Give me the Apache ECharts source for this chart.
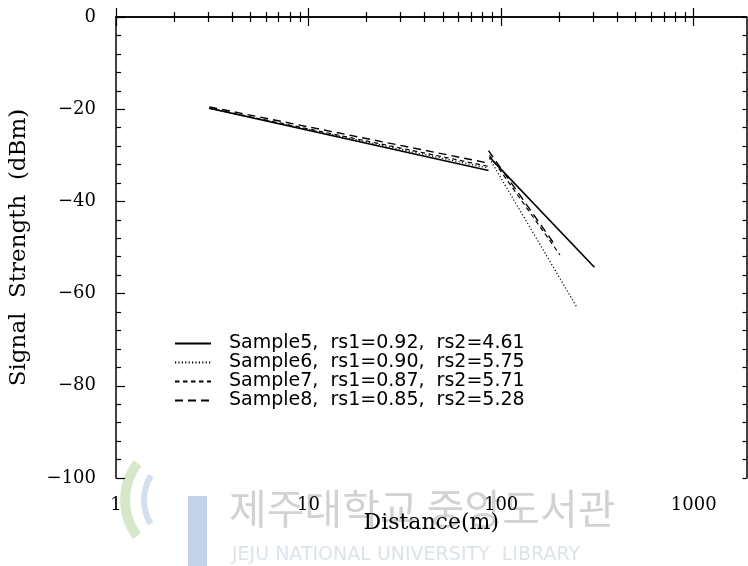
<!DOCTYPE html>
<html>
<head>
<meta charset="utf-8">
<script src="https://cdn.jsdelivr.net/npm/echarts@6/dist/echarts.min.js"></script>
<style>
html,body{margin:0;padding:0;background:#fff}
#chart{width:748px;height:566px}
</style>
</head>
<body>
<div id="chart"></div>
<script>
// legend names
let sampleNames = [
    'Sample5,  rs1=0.92,  rs2=4.61',
    'Sample6,  rs1=0.90,  rs2=5.75',
    'Sample7,  rs1=0.87,  rs2=5.71',
    'Sample8,  rs1=0.85,  rs2=5.28'
]
// [distance(m), dBm] - near segment and far segment of each fit
let sample5Near = [[3.05,-19.8],[86,-33.3]]
let sample5Far  = [[87,-30.4],[305,-54.3]]
let sample6Near = [[3.05,-19.8],[86,-32.8]]
let sample6Far  = [[87,-30.7],[246,-62.8]]
let sample7Near = [[3.05,-19.8],[86,-32.4]]
let sample7Far  = [[87,-30.0],[202,-51.6]]
let sample8Near = [[3.05,-19.5],[86,-31.7]]
let sample8Far  = [[86,-29.0],[190,-49.4]]
// tick values
let xMajorTicks = [1,10,100,1000]
let xMinorTicks = [2,3,4,5,6,7,8,9,20,30,40,50,60,70,80,90,200,300,400,500,600,700,800,900]
let xMax = 1880

let serif = 'DejaVu Serif'
let lineDefs = [
    {near:sample5Near, far:sample5Far, width:1.6, type:'solid'},
    {near:sample6Near, far:sample6Far, width:1.2, type:[1.2,2.2]},
    {near:sample7Near, far:sample7Far, width:1.2, type:[4.5,3.5]},
    {near:sample8Near, far:sample8Far, width:1.4, type:[8,5]}
]

function logAxis(pos, ticks, len, showLine, showLabel){
    return {
        type:'log',
        logBase:10,
        min:1,
        max:xMax,
        position:pos,
        name: showLabel ? 'Distance(m)' : '',
        nameLocation:'middle',
        nameGap:34,
        nameMoveOverlap:false,
        nameTextStyle:{fontFamily:serif, fontSize:22, color:'#000'},
        axisLine:{show:showLine, lineStyle:{color:'#000', width:1.5}},
        axisTick:{show:true, inside:true, length:len, customValues:ticks, lineStyle:{color:'#000', width:1.2}},
        axisLabel:{show:showLabel, customValues:ticks, margin:18, fontFamily:serif, fontSize:18, color:'#000',
            formatter:v=>String(v)},
        splitLine:{show:false},
        minorTick:{show:false}
    }
}

let series = []
lineDefs.forEach((item,index)=>{
    ;[item.near, item.far].forEach(seg=>{
        series.push({
            name:sampleNames[index],
            type:'line',
            xAxisIndex:0,
            yAxisIndex:0,
            data:seg,
            symbol:'none',
            silent:true,
            color:'#000',
            lineStyle:{color:'#000', width:item.width, type:item.type}
        })
    })
})

var myChart = echarts.init(document.getElementById('chart'), null, {renderer:'canvas'})
var option = {
    backgroundColor:'#fff',
    animation:false,
    grid:{left:110, right:1.5, top:17, bottom:88},
    legend:{
        data:sampleNames,
        orient:'vertical',
        left:174,
        top:334,
        padding:0,
        itemGap:0,
        itemWidth:36,
        itemHeight:14,
        selectedMode:false,
        itemStyle:{opacity:0},
        textStyle:{fontFamily:'DejaVu Sans', fontSize:19, color:'#000', lineHeight:19, padding:[0,0,0,13]}
    },
    xAxis:[
        logAxis('bottom', xMajorTicks, 9, true, true),
        logAxis('bottom', xMinorTicks, 5, false, false),
        logAxis('top', xMajorTicks, 9, true, false),
        logAxis('top', xMinorTicks, 5, false, false)
    ],
    yAxis:[{
        type:'value',
        min:-100,
        max:0,
        interval:20,
        name:'Signal  Strength  (dBm)',
        nameLocation:'middle',
        nameGap:85,
        nameTextStyle:{fontFamily:serif, fontSize:23, color:'#000'},
        axisLine:{show:true, lineStyle:{color:'#000', width:1.5}},
        axisTick:{show:true, inside:true, length:9, lineStyle:{color:'#000', width:1.2}},
        minorTick:{show:true, splitNumber:5, length:5, lineStyle:{color:'#000', width:1.2}},
        axisLabel:{margin:20, fontFamily:serif, fontSize:18, color:'#000',
            formatter:v=>String(v).replace('-','\u2212')},
        splitLine:{show:false}
    },{
        type:'value',
        min:-100,
        max:0,
        interval:20,
        position:'right',
        axisLine:{show:true, lineStyle:{color:'#000', width:1.5}},
        axisTick:{show:true, inside:true, length:4, lineStyle:{color:'#000', width:1.2}},
        minorTick:{show:true, splitNumber:5, length:4, lineStyle:{color:'#000', width:1.2}},
        axisLabel:{show:false},
        splitLine:{show:false}
    }],
    // library watermark
    graphic:[
        {type:'arc', z:-10, shape:{cx:185, cy:500, r:60, startAngle:2.5, endAngle:3.8}, style:{stroke:'#d7e8c8', lineWidth:10, fill:null}},
        {type:'arc', z:-10, shape:{cx:190, cy:500, r:46, startAngle:2.6, endAngle:3.7}, style:{stroke:'#d3deef', lineWidth:6, fill:null}},
        {type:'rect', z:-10, shape:{x:188, y:496, width:19, height:70}, style:{fill:'#c4d2ea'}},
        {type:'text', z:-10, left:229, top:488, style:{text:'제주대학교 중앙도서관', fontFamily:'Noto Sans CJK KR', fontSize:41, fill:'#d2d2d2'}},
        {type:'text', z:-10, left:232, top:546, style:{text:'JEJU NATIONAL UNIVERSITY  LIBRARY', fontFamily:'DejaVu Sans', fontSize:19, fill:'#dde3ea'}}
    ],
    series:series
}
myChart.setOption(option)
</script>
</body>
</html>
